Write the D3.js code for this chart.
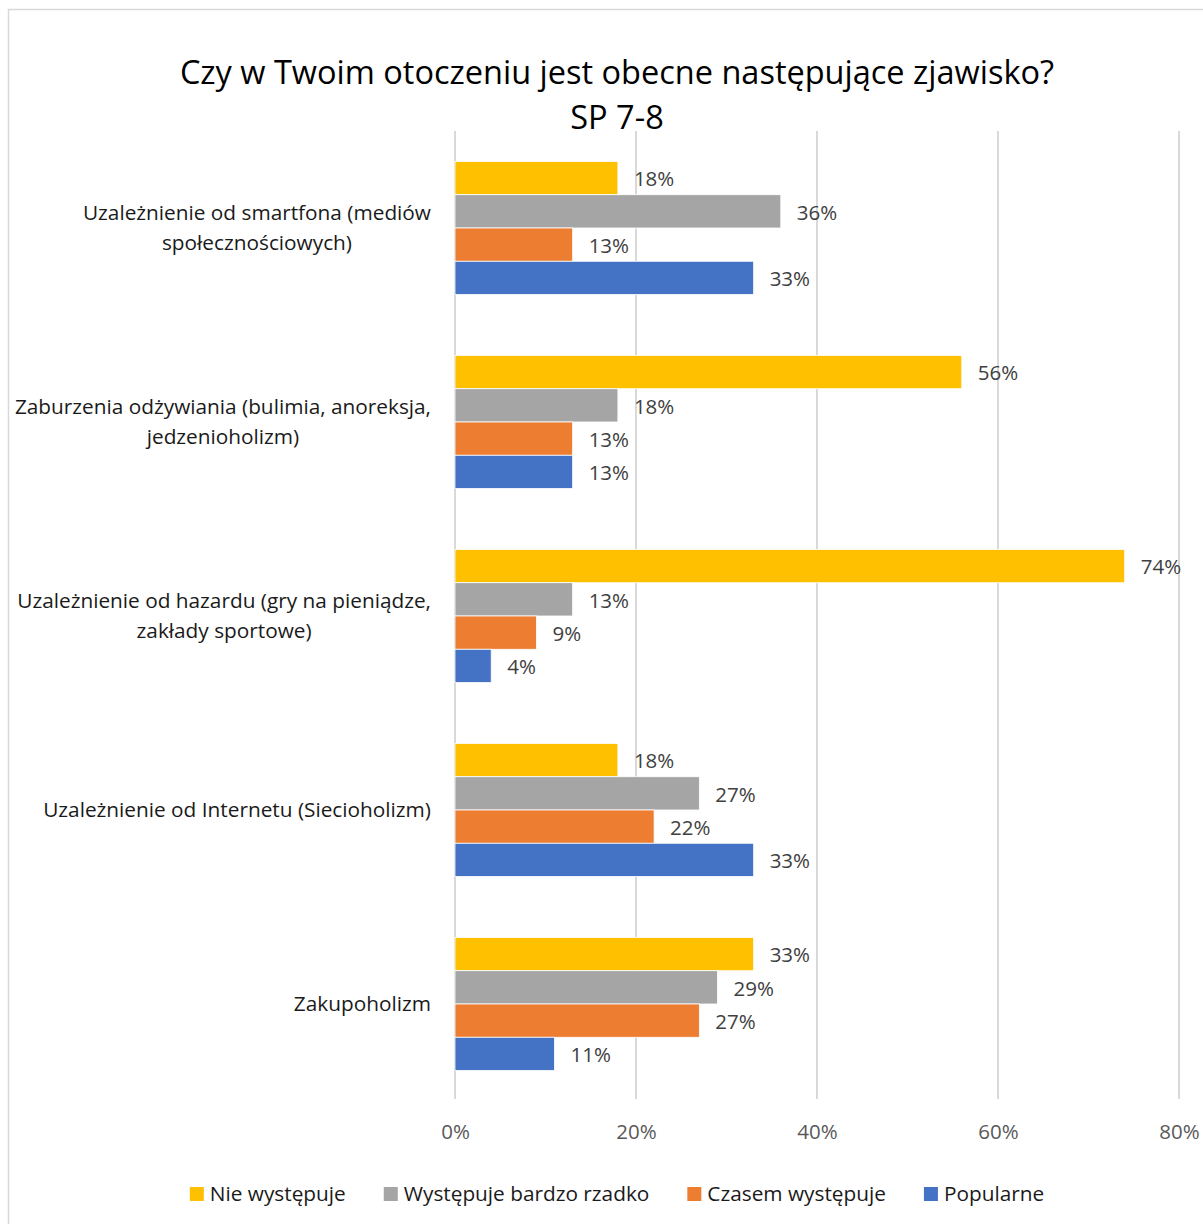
<!DOCTYPE html>
<html>
<head>
<meta charset="utf-8">
<script src="https://cdn.jsdelivr.net/npm/d3@7"></script>
<style>
  body { margin: 0; background: #fff; }
  text { font-family: "Open Sans", Lato, sans-serif; }
</style>
</head>
<body>
<div class="chart"></div>
<script>
var svgWidth = 1203;
var svgHeight = 1224;

// chart data
var categories = [
    "Uzależnienie od smartfona (mediów|społecznościowych)",
    "Zaburzenia odżywiania (bulimia, anoreksja,|jedzenioholizm)",
    "Uzależnienie od hazardu (gry na pieniądze,|zakłady sportowe)",
    "Uzależnienie od Internetu (Siecioholizm)",
    "Zakupoholizm"
];
var seriesNames = ["Nie występuje", "Występuje bardzo rzadko", "Czasem występuje", "Popularne"];
var seriesColors = ["#FFC000", "#A5A5A5", "#ED7D31", "#4472C4"];
var nieWystepuje = [0.18, 0.56, 0.74, 0.18, 0.33];
var bardzoRzadko = [0.36, 0.18, 0.13, 0.27, 0.29];
var czasem = [0.13, 0.13, 0.09, 0.22, 0.27];
var popularne = [0.33, 0.13, 0.04, 0.33, 0.11];
var xTicks = [0, 0.2, 0.4, 0.6, 0.8];

var seriesValues = [nieWystepuje, bardzoRzadko, czasem, popularne];

var margin = { top: 131, right: 24, bottom: 123, left: 455 };

var svg = d3.select(".chart")
    .append("svg")
    .attr("width", svgWidth)
    .attr("height", svgHeight);

// outer frame
svg.append("rect")
    .attr("x", 8.5)
    .attr("y", 9.5)
    .attr("width", 1230)
    .attr("height", 1240)
    .attr("fill", "#fff")
    .attr("stroke", "#d9d9d9")
    .attr("stroke-width", 1.5);

// title
var title = svg.append("text")
    .attr("x", 617)
    .attr("text-anchor", "middle")
    .attr("font-size", 32.5)
    .attr("fill", "#000");
title.append("tspan").attr("x", 617).attr("y", 84).text("Czy w Twoim otoczeniu jest obecne następujące zjawisko?");
title.append("tspan").attr("x", 617).attr("y", 129).text("SP 7-8");

// scales
var xScale = d3.scaleLinear()
    .domain([0, 0.8])
    .range([margin.left, 1179]);

var yScale = d3.scaleBand()
    .domain(categories)
    .range([margin.top, svgHeight - margin.bottom])
    .paddingInner(0.314)
    .paddingOuter(0.157);

var yInner = d3.scaleBand()
    .domain(seriesNames)
    .range([0, yScale.bandwidth()]);

// gridlines
var gridBottom = 1099;
svg.append("g")
    .selectAll("line")
    .data(xTicks)
    .enter()
    .append("line")
    .attr("x1", d => xScale(d))
    .attr("x2", d => xScale(d))
    .attr("y1", margin.top)
    .attr("y2", gridBottom)
    .attr("stroke", "#d9d9d9")
    .attr("stroke-width", 2);

// x axis tick labels
var xAxis = d3.axisBottom(xScale)
    .tickValues(xTicks)
    .tickFormat(d3.format(".0%"))
    .tickSize(0)
    .tickPadding(0);

var xAxisGroup = svg.append("g")
    .attr("transform", `translate(0, 1124)`)
    .call(xAxis);
xAxisGroup.select(".domain").remove();
xAxisGroup.selectAll("text")
    .attr("font-size", 20.5)
    .attr("fill", "#595959")
    .attr("font-family", "'Open Sans', Lato, sans-serif");

// bars
var rows = [];
categories.forEach(function (c, i) {
    seriesNames.forEach(function (s, j) {
        rows.push({ cat: c, series: s, color: seriesColors[j], value: seriesValues[j][i] });
    });
});

var barGroup = svg.append("g");
barGroup.selectAll("rect")
    .data(rows)
    .enter()
    .append("rect")
    .attr("x", xScale(0))
    .attr("y", d => yScale(d.cat) + yInner(d.series))
    .attr("width", d => xScale(d.value) - xScale(0))
    .attr("height", yInner.bandwidth())
    .attr("fill", d => d.color)
    .attr("stroke", "#ffffff")
    .attr("stroke-width", 0.8);

// data labels
barGroup.selectAll("text")
    .data(rows)
    .enter()
    .append("text")
    .attr("x", d => xScale(d.value) + 16)
    .attr("y", d => yScale(d.cat) + yInner(d.series) + yInner.bandwidth() / 2 + 1)
    .attr("dy", "0.36em")
    .attr("font-size", 20.5)
    .attr("fill", "#404040")
    .text(d => Math.round(d.value * 100) + "%");

// category labels (multi-line, block right aligned, lines centered)
var labelRight = 431;
categories.forEach(function (c) {
    var lines = c.split("|");
    var cy = yScale(c) + yScale.bandwidth() / 2;
    var g = svg.append("text")
        .attr("font-size", 20.8)
        .attr("fill", "#1a1a1a")
        .attr("text-anchor", "middle");
    var spans = lines.map(function (l, k) {
        return g.append("tspan")
            .attr("y", cy + (k - (lines.length - 1) / 2) * 30)
            .attr("dy", "0.36em")
            .text(l);
    });
    var maxW = d3.max(spans, s => s.node().getComputedTextLength());
    spans.forEach(s => s.attr("x", labelRight - maxW / 2));
});

// legend
var legend = svg.append("g");
var legendY = 1194;
var lx = 0;
seriesNames.forEach(function (s, j) {
    var item = legend.append("g").attr("transform", `translate(${lx}, 0)`);
    item.append("rect")
        .attr("x", 0)
        .attr("y", legendY - 7)
        .attr("width", 14)
        .attr("height", 14)
        .attr("fill", seriesColors[j]);
    var t = item.append("text")
        .attr("x", 20)
        .attr("y", legendY)
        .attr("dy", "0.36em")
        .attr("font-size", 20.8)
        .attr("fill", "#1a1a1a")
        .text(s);
    lx += 20 + t.node().getComputedTextLength() + 38;
});
var legendWidth = lx - 38;
legend.attr("transform", `translate(${617 - legendWidth / 2}, 0)`);
</script>
</body>
</html>
